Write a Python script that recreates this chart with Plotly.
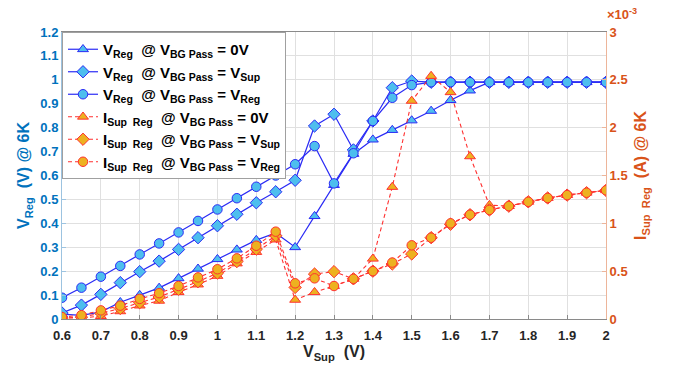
import plotly.graph_objects as go

v_sup = [0.6, 0.65, 0.7, 0.75, 0.8, 0.85, 0.9, 0.95, 1.0, 1.05, 1.1, 1.15, 1.2, 1.25, 1.3,
         1.35, 1.4, 1.45, 1.5, 1.55, 1.6, 1.65, 1.7, 1.75, 1.8, 1.85, 1.9, 1.95, 2.0]

v_reg_0v = [0.02, 0.015, 0.03, 0.07, 0.10, 0.13, 0.17, 0.21, 0.25, 0.29, 0.33, 0.36, 0.30, 0.43, 0.56,
            0.69, 0.75, 0.79, 0.83, 0.87, 0.915, 0.955, 0.99, 0.99, 0.99, 0.99, 0.99, 0.99, 0.99]
v_reg_vsup = [0.025, 0.058, 0.103, 0.152, 0.198, 0.242, 0.291, 0.34, 0.39, 0.438, 0.486, 0.532, 0.58, 0.807, 0.856,
              0.707, 0.828, 0.967, 0.995, 0.99, 0.99, 0.99, 0.99, 0.99, 0.99, 0.99, 0.99, 0.99, 0.99]
v_reg_vreg = [0.089, 0.131, 0.177, 0.222, 0.27, 0.316, 0.362, 0.41, 0.458, 0.505, 0.553, 0.60, 0.647, 0.723, 0.567,
              0.693, 0.828, 0.925, 0.978, 0.99, 0.99, 0.99, 0.99, 0.99, 0.99, 0.99, 0.99, 0.99, 0.99]

# currents in units of 1e-3 A
i_sup_0v = [0.01, 0.01, 0.03, 0.08, 0.14, 0.19, 0.28, 0.36, 0.45, 0.58, 0.70, 0.83, 0.20, 0.28, 0.345,
            0.42, 0.63, 1.38, 2.28, 2.54, 2.37, 1.70, 1.19, 1.18, 1.225, 1.265, 1.295, 1.32, 1.345]
i_sup_vsup = [0.01, 0.02, 0.06, 0.11, 0.17, 0.23, 0.31, 0.39, 0.48, 0.60, 0.73, 0.87, 0.33, 0.47, 0.495,
              0.42, 0.50, 0.575, 0.68, 0.85, 0.99, 1.09, 1.14, 1.18, 1.225, 1.265, 1.295, 1.32, 1.345]
i_sup_vreg = [0.02, 0.04, 0.09, 0.14, 0.21, 0.27, 0.345, 0.435, 0.52, 0.634, 0.766, 0.913, 0.373, 0.425, 0.345,
              0.42, 0.50, 0.59, 0.77, 0.85, 1.0, 1.09, 1.14, 1.18, 1.225, 1.265, 1.295, 1.32, 1.345]

x_ticks = [0.6, 0.7, 0.8, 0.9, 1.0, 1.1, 1.2, 1.3, 1.4, 1.5, 1.6, 1.7, 1.8, 1.9, 2.0]

BLUE_LINE = "#2B2BF5"
BLUE_FILL = "#4DBEEE"
RED_LINE = "#FF3030"
ORANGE_FILL = "#EDB120"
AX_BLUE = "#0072BD"
AX_ORANGE = "#D95319"
FONT = "Liberation Sans"

fig = go.Figure()

v_series = [
    (v_reg_0v, "triangle-up", "V<sub>Reg</sub>  @ V<sub>BG Pass</sub> = 0V"),
    (v_reg_vsup, "diamond", "V<sub>Reg</sub>  @ V<sub>BG Pass</sub> = V<sub>Sup</sub>"),
    (v_reg_vreg, "circle", "V<sub>Reg</sub>  @ V<sub>BG Pass</sub> = V<sub>Reg</sub>"),
]
for ys, sym, name in v_series:
    fig.add_trace(go.Scatter(
        x=v_sup, y=ys, name=name, mode="lines+markers",
        line=dict(color=BLUE_LINE, width=1.2),
        marker=dict(symbol=sym, size=9.5, color=BLUE_FILL, line=dict(color=BLUE_LINE, width=1)),
        yaxis="y"))

i_series = [
    (i_sup_0v, "triangle-up", "I<sub>Sup  Reg</sub>  @ V<sub>BG Pass</sub> = 0V"),
    (i_sup_vsup, "diamond", "I<sub>Sup  Reg</sub>  @ V<sub>BG Pass</sub> = V<sub>Sup</sub>"),
    (i_sup_vreg, "circle", "I<sub>Sup  Reg</sub>  @ V<sub>BG Pass</sub> = V<sub>Reg</sub>"),
]
for ys, sym, name in i_series:
    fig.add_trace(go.Scatter(
        x=v_sup, y=ys, name=name, mode="lines+markers",
        line=dict(color=RED_LINE, width=1.1, dash="4px,3px"),
        marker=dict(symbol=sym, size=9.5, color=ORANGE_FILL, line=dict(color=RED_LINE, width=1)),
        yaxis="y2"))

fig.update_layout(
    width=675, height=370,
    margin=dict(l=62, r=69, t=32, b=51),
    paper_bgcolor="white", plot_bgcolor="white",
    font=dict(family=FONT, size=13, color="black"),
    showlegend=True,
    legend=dict(x=0, y=1, xanchor="left", yanchor="top",
                bgcolor="white", bordercolor="#A0A0A0", borderwidth=1,
                font=dict(family=FONT, size=15, color="black", weight="bold"),
                tracegroupgap=0, itemwidth=30),
    xaxis=dict(range=[0.6, 2.0], tickvals=x_ticks, ticktext=[f"{v:g}" for v in x_ticks],
               showgrid=True, gridcolor="#E0E0E0", gridwidth=1,
               showline=True, linecolor="#8A8A8A", mirror=True, zeroline=False,
               ticks="inside", ticklen=4, tickcolor="#8A8A8A", ticklabelstandoff=4,
               tickfont=dict(family=FONT, size=13, color="#262626", weight="bold"),
               title=dict(text="<b>V<sub>Sup</sub>  (V)</b>", standoff=4,
                          font=dict(family=FONT, size=16, color="#262626"))),
    yaxis=dict(range=[0, 1.2], dtick=0.1, tick0=0,
               showgrid=True, gridcolor="#E0E0E0", gridwidth=1,
               showline=True, linecolor="#9CC3E0", zeroline=False,
               ticks="inside", ticklen=4, tickcolor="#9CC3E0",
               tickfont=dict(family=FONT, size=13, color=AX_BLUE, weight="bold"),
               title=dict(text="<b>V<sub>Reg</sub>  (V) @ 6K</b>", standoff=6,
                          font=dict(family=FONT, size=16, color=AX_BLUE))),
    yaxis2=dict(range=[0, 3], dtick=0.5, tick0=0, overlaying="y", side="right",
                showgrid=False, showline=True, linecolor="#EDB59A", zeroline=False,
                ticks="inside", ticklen=4, tickcolor="#EDB59A",
                tickfont=dict(family=FONT, size=13, color=AX_ORANGE, weight="bold"),
                title=dict(text="<b>I<sub>Sup  Reg</sub>  (A) @ 6K</b>", standoff=8,
                           font=dict(family=FONT, size=16, color=AX_ORANGE))),
    annotations=[dict(text="×10<sup>-3</sup>", xref="paper", yref="paper", x=1.0, y=1.0,
                      xanchor="left", yanchor="bottom", yshift=8, xshift=-1, showarrow=False,
                      font=dict(family=FONT, size=13, color=AX_ORANGE, weight="bold"))],
)

fig.write_html("out.html")
